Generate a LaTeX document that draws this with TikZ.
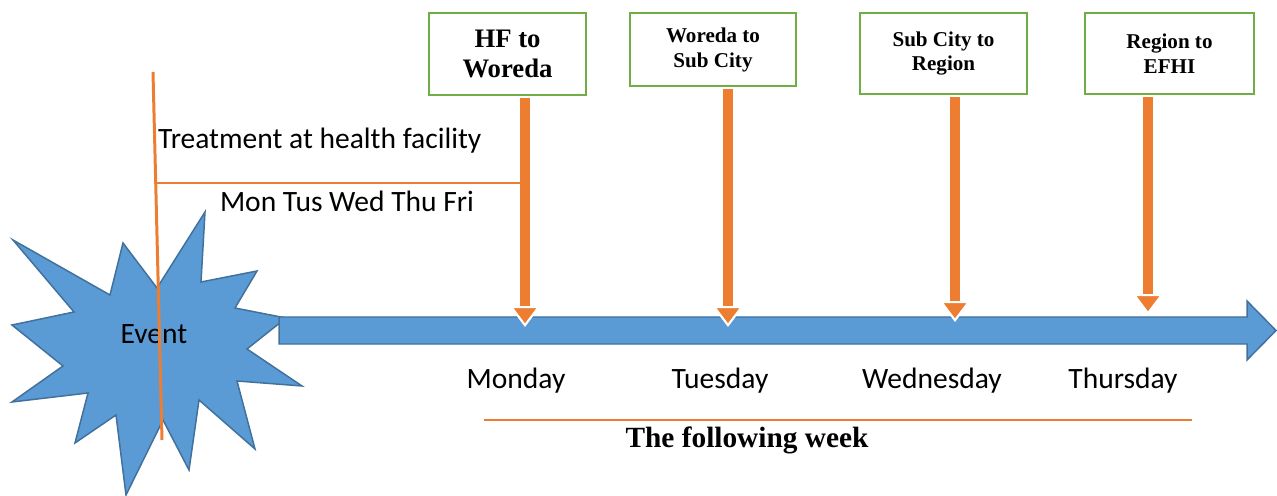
\documentclass[tikz,border=0pt]{standalone}
\usepackage{fontspec}
\setmainfont{Carlito}
\newfontfamily\tnr{Liberation Serif}
\usetikzlibrary{arrows.meta}
\definecolor{evblue}{HTML}{5B9BD5}
\definecolor{evedge}{HTML}{41719C}
\definecolor{legorange}{HTML}{ED7D31}
\definecolor{boxgreen}{HTML}{70AD47}

\begin{document}
\begin{tikzpicture}[x=0.02cm, y=-0.02cm, font=\fontsize{16.8}{20}\selectfont]
		\tikzstyle{stage}=[draw=boxgreen, line width=1.4pt, fill=white, align=center, inner sep=2pt, font=\tnr\bfseries\fontsize{12}{14.2}\selectfont]
		\tikzstyle{report}=[draw=legorange, line width=0.2cm, -{Triangle[width=0.62cm, length=0.42cm, line width=1.2pt, color=white, fill=legorange]}]
		\tikzstyle{oline}=[draw=legorange, line width=1.7pt]
		
		\useasboundingbox (0,0) rectangle (1277,496);
		
		% Ereignis (Stern)
		\draw[fill=evblue, draw=evedge, line width=0.85pt]
			(13,240) -- (110,295) -- (123,243) -- (157,288) -- (205,212) -- (201,282)
			-- (257,271) -- (235,308) -- (286,318) -- (247,349) -- (302,386) -- (237,381)
			-- (255,449) -- (199,400) -- (189,470) -- (163,420) -- (126,495) -- (116,415)
			-- (75,443) -- (88,393) -- (12,402) -- (63,366) -- (12,325) -- (74,312) -- cycle;
		\node (event) at (154,334) {Event};
		
		% Zeitachse
		\draw[fill=evblue, draw=evedge, line width=0.85pt]
			(279,317) -- (1247,317) -- (1247,301) -- (1276,330.5) -- (1247,360) -- (1247,344) -- (279,344) -- cycle;
		\coordinate (d1) at (525,327);
		\coordinate (d2) at (728,327);
		\coordinate (d3) at (955,322);
		\coordinate (d4) at (1148,315);
		
		% Meldestufen
		\node[stage, minimum width=157*0.02cm, minimum height=82*0.02cm, font=\tnr\bfseries\fontsize{15.2}{17.5}\selectfont] (hf) at (507.5,54) {HF to\\Woreda};
		\node[stage, minimum width=166*0.02cm, minimum height=73*0.02cm] (woreda) at (713,49.5) {Woreda to\\Sub City};
		\node[stage, minimum width=167*0.02cm, minimum height=81*0.02cm] (subcity) at (943.5,53.5) {Sub City to\\Region};
		\node[stage, minimum width=169*0.02cm, minimum height=81*0.02cm] (region) at (1169.5,53.5) {Region to\\EFHI};
		
		\draw[report] ([yshift=-1pt]hf.south -| d1) -- (d1);
		\draw[report] ([yshift=-1pt]woreda.south -| d2) -- (d2);
		\draw[report] ([yshift=-1pt]subcity.south -| d3) -- (d3);
		\draw[report] ([yshift=-1pt]region.south -| d4) -- (d4);
		
		% Behandlung
		\coordinate (top) at (153,72);
		\coordinate (bottom) at (162,440);
		\coordinate (tstart) at (153.5,183);
		\draw[oline] (top) -- (bottom);
		\draw[oline] (tstart) -- (tstart -| d1);
		\node[anchor=west] (treat) at (152,141) {Treatment at health facility};
		\node (days) at (347,201) {Mon Tus Wed Thu Fri};
		
		% Wochentage
		\node (mon) at (516,381) {Monday};
		\node (tue) at (720,381) {Tuesday};
		\node (wed) at (932,381) {Wednesday};
		\node (thu) at (1123,381) {Thursday};
		
		\coordinate (wstart) at (484,420);
		\coordinate (wend) at (1192,420);
		\draw[oline] (wstart) -- (wend);
		\node[font=\tnr\bfseries\fontsize{16.7}{18}\selectfont] (week) at (747,440) {The following week};
		
	\end{tikzpicture}
\end{document}
